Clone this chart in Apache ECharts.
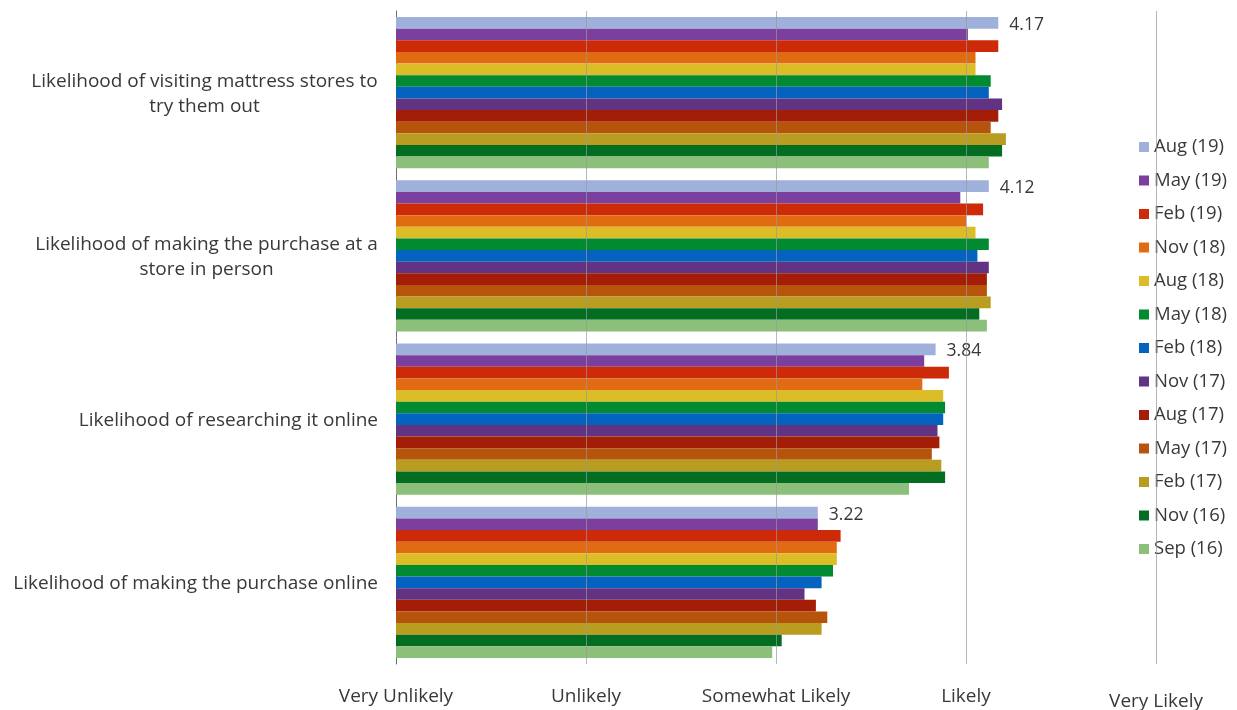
<!DOCTYPE html>
<html>
<head>
<meta charset="utf-8">
<script src="https://cdn.jsdelivr.net/npm/echarts@6/dist/echarts.min.js"></script>
<style>
  html, body { margin: 0; padding: 0; background: #ffffff; }
  #chart { width: 1237px; height: 710px; }
</style>
</head>
<body>
<div id="chart"></div>
<script>
// Survey questions (top to bottom)
const categories = [
  'Likelihood of visiting mattress stores to\ntry them out',
  'Likelihood of making the purchase at a\nstore in person',
  'Likelihood of researching it online',
  'Likelihood of making the purchase online'
];

// Scale tick labels, 1..5
const scaleLabels = ['Very Unlikely', 'Unlikely', 'Somewhat Likely', 'Likely', 'Very Likely'];

// Survey waves (newest first)
const waveNames = ['Aug (19)', 'May (19)', 'Feb (19)', 'Nov (18)', 'Aug (18)', 'May (18)', 'Feb (18)',
                   'Nov (17)', 'Aug (17)', 'May (17)', 'Feb (17)', 'Nov (16)', 'Sep (16)'];
const waveColors = ['#9fb1db', '#7b3f9d', '#cc2a08', '#e06b12', '#dcbc27', '#018a30', '#0463bf',
                    '#613382', '#a41d07', '#b7540c', '#b89d20', '#036e22', '#8cbf7a'];

// Mean scores per wave, one value per question
const aug19 = [4.17, 4.12, 3.84, 3.22];
const may19 = [4.01, 3.97, 3.78, 3.22];
const feb19 = [4.17, 4.09, 3.91, 3.34];
const nov18 = [4.05, 4.00, 3.77, 3.32];
const aug18 = [4.05, 4.05, 3.88, 3.32];
const may18 = [4.13, 4.12, 3.89, 3.30];
const feb18 = [4.12, 4.06, 3.88, 3.24];
const nov17 = [4.19, 4.12, 3.85, 3.15];
const aug17 = [4.17, 4.11, 3.86, 3.21];
const may17 = [4.13, 4.11, 3.82, 3.27];
const feb17 = [4.21, 4.13, 3.87, 3.24];
const nov16 = [4.19, 4.07, 3.89, 3.03];
const sep16 = [4.12, 4.11, 3.70, 2.98];

const waveValues = [aug19, may19, feb19, nov18, aug18, may18, feb18, nov17, aug17, may17, feb17, nov16, sep16];

const FONT = 'Open Sans';
const LABEL_SIZE = 19;
const TEXT_COLOR = '#383838';

// Multi-line category labels are centred on their widest line
const measureCtx = document.createElement('canvas').getContext('2d');
measureCtx.font = LABEL_SIZE + 'px "' + FONT + '"';
const rich = {};
categories.forEach(function (c, i) {
  const w = Math.max.apply(null, c.split('\n').map(function (l) { return measureCtx.measureText(l).width; }));
  rich['c' + i] = { width: Math.ceil(w), align: 'center', fontSize: LABEL_SIZE, fontFamily: FONT, color: TEXT_COLOR, lineHeight: 25 };
});

const series = waveNames.map(function (name, i) {
  const s = {
    name: name,
    type: 'bar',
    data: waveValues[i],
    itemStyle: { color: waveColors[i] },
    barGap: '0%',
    barCategoryGap: '7.4%',
    emphasis: { disabled: true }
  };
  if (i === 0) {
    s.label = {
      show: true,
      position: 'right',
      distance: 11,
      offset: [0, 2],
      formatter: function (p) { return p.value.toFixed(2); },
      fontFamily: FONT,
      fontSize: 17.5,
      color: TEXT_COLOR
    };
  }
  if (i === waveNames.length - 1) {
    // grid lines painted above the bars
    s.markLine = {
      silent: true,
      symbol: 'none',
      label: { show: false },
      lineStyle: { color: '#999999', opacity: 0.7, width: 1, type: 'solid' },
      data: [{ xAxis: 2 }, { xAxis: 3 }, { xAxis: 4 }, { xAxis: 5 }]
    };
  }
  return s;
});

const chart = echarts.init(document.getElementById('chart'), null, { renderer: 'canvas' });
chart.setOption({
  backgroundColor: '#ffffff',
  animation: false,
  textStyle: { fontFamily: FONT },
  grid: { left: 396, right: 81, top: 11, bottom: 46, containLabel: false, outerBoundsMode: 'none' },
  legend: {
    orient: 'vertical',
    left: 1139,
    top: 137,
    padding: 0,
    itemWidth: 10,
    itemHeight: 10,
    itemGap: 13.5,
    itemTextGap: 10,
    icon: 'rect',
    textStyle: { fontFamily: FONT, fontSize: 18.5, color: TEXT_COLOR, lineHeight: 20 },
    data: waveNames
  },
  xAxis: {
    type: 'value',
    min: 1,
    max: 5,
    interval: 1,
    axisLine: { show: false },
    axisTick: { show: false },
    splitLine: { show: false },
    axisLabel: {
      margin: 23,
      fontFamily: FONT,
      fontSize: 19,
      color: TEXT_COLOR,
      formatter: function (v) {
        const t = scaleLabels[Math.round(v) - 1];
        return v === 5 ? '{v|' + t + '}' : t;
      },
      rich: { v: { fontFamily: FONT, fontSize: 19, color: TEXT_COLOR, padding: [5, 0, 0, 0] } }
    }
  },
  yAxis: {
    type: 'category',
    inverse: true,
    data: categories,
    axisLine: { show: true, lineStyle: { color: '#6e6e6e', width: 1 } },
    axisTick: { show: false },
    axisLabel: {
      margin: 18,
      fontFamily: FONT,
      fontSize: LABEL_SIZE,
      color: TEXT_COLOR,
      lineHeight: 25,
      padding: [3, 0, 0, 0],
      formatter: function (value, idx) {
        if (value.indexOf('\n') < 0) return value;
        return value.split('\n').map(function (l) { return '{c' + idx + '|' + l + '}'; }).join('\n');
      },
      rich: rich
    }
  },
  series: series
});
</script>
</body>
</html>
